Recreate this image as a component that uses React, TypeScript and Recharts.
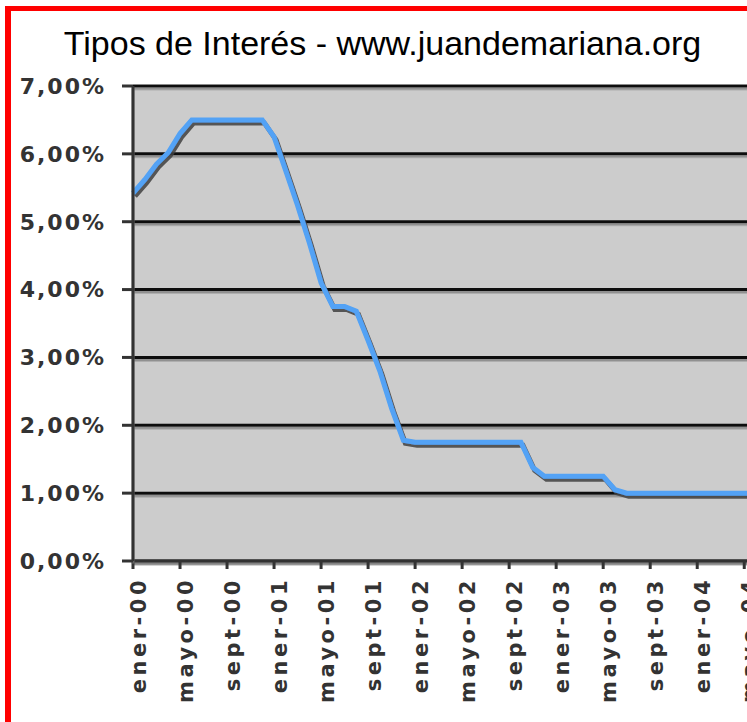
import { CartesianGrid, Line, LineChart, XAxis, YAxis } from "recharts";

const meses = [
  "ener-00", "febr-00", "marz-00", "abri-00", "mayo-00", "juni-00", "juli-00", "agos-00", "sept-00", "octu-00", "novi-00", "dici-00",
  "ener-01", "febr-01", "marz-01", "abri-01", "mayo-01", "juni-01", "juli-01", "agos-01", "sept-01", "octu-01", "novi-01", "dici-01",
  "ener-02", "febr-02", "marz-02", "abri-02", "mayo-02", "juni-02", "juli-02", "agos-02", "sept-02", "octu-02", "novi-02", "dici-02",
  "ener-03", "febr-03", "marz-03", "abri-03", "mayo-03", "juni-03", "juli-03", "agos-03", "sept-03", "octu-03", "novi-03", "dici-03",
  "ener-04", "febr-04", "marz-04", "abri-04", "mayo-04", "juni-04",
];

// tipo de interés (%)
const tipos = [
  5.42, 5.62, 5.85, 6.02, 6.3, 6.5, 6.5, 6.5, 6.5, 6.5, 6.5, 6.5,
  6.25, 5.75, 5.24, 4.69, 4.1, 3.75, 3.75, 3.68, 3.25, 2.8, 2.25, 1.78,
  1.75, 1.75, 1.75, 1.75, 1.75, 1.75, 1.75, 1.75, 1.75, 1.75, 1.38, 1.25,
  1.25, 1.25, 1.25, 1.25, 1.25, 1.05, 1.0, 1.0, 1.0, 1.0, 1.0, 1.0,
  1.0, 1.0, 1.0, 1.0, 1.0, 1.0,
];

const ticksY = [0, 1, 2, 3, 4, 5, 6, 7];

const data = meses.map((mes, i) => ({ mes, tipo: tipos[i] }));

const fmtPct = (v: number) => v.toFixed(2).replace(".", ",") + "%";

function MesTick({ x, y, payload }: any) {
  const ty = y + 6;
  return (
    <text
      x={x}
      y={ty}
      dy="0.62em"
      transform={`rotate(-90, ${x}, ${ty})`}
      textAnchor="end"
      fill="#333"
      fontSize={21}
      fontWeight="bold"
      fontFamily="DejaVu Sans"
      letterSpacing={3.5}
    >
      {payload.value}
    </text>
  );
}

export default function App() {
  return (
    <div
      style={{
        position: "absolute",
        left: 0,
        top: 0,
        width: 747,
        height: 722,
        overflow: "hidden",
        background: "#fff",
      }}
    >
      <style>{`
        .recharts-cartesian-grid-horizontal line { filter: url(#sombraGrid); }
        .recharts-line-curve { filter: url(#sombraLinea); }
        .recharts-cartesian-axis-line { filter: url(#sombraGrid); }
      `}</style>
      <svg width={0} height={0} style={{ position: "absolute" }}>
        <defs>
          <filter id="sombraLinea" filterUnits="userSpaceOnUse" x={0} y={0} width={2000} height={2000}>
            <feDropShadow dx={2} dy={3} stdDeviation={0.6} floodColor="#404040" floodOpacity={0.85} />
          </filter>
          <filter id="sombraGrid" filterUnits="userSpaceOnUse" x={0} y={0} width={2000} height={2000}>
            <feDropShadow dx={0} dy={2.5} stdDeviation={0.6} floodColor="#777" floodOpacity={0.7} />
          </filter>
        </defs>
      </svg>

      <div
        style={{
          position: "absolute",
          left: 0,
          top: 24,
          width: 765,
          textAlign: "center",
          fontFamily: "Liberation Sans",
          fontSize: 34,
          color: "#000",
          whiteSpace: "nowrap",
        }}
      >
        Tipos de Interés - www.juandemariana.org
      </div>

      <div style={{ position: "absolute", left: 0, top: 0 }}>
        <LineChart
          width={760}
          height={722}
          data={data}
          margin={{ top: 86, right: 4, bottom: 0, left: 0 }}
        >
          <CartesianGrid
            vertical={false}
            fill="#cccccc"
            fillOpacity={1}
            stroke="#111"
            strokeWidth={3}
            strokeDasharray=""
          />
          <XAxis
            dataKey="mes"
            interval={3}
            height={161}
            tick={<MesTick />}
            tickSize={8}
            axisLine={{ stroke: "#333", strokeWidth: 3 }}
            tickLine={{ stroke: "#333", strokeWidth: 3 }}
          />
          <YAxis
            domain={[0, 7]}
            ticks={ticksY}
            width={133}
            tickFormatter={fmtPct}
            tickSize={11}
            tickMargin={16}
            tick={{ fill: "#333", fontSize: 22, fontWeight: "bold", fontFamily: "DejaVu Sans", letterSpacing: 2 }}
            axisLine={{ stroke: "#333", strokeWidth: 3 }}
            tickLine={{ stroke: "#333", strokeWidth: 3 }}
          />
          <Line
            dataKey="tipo"
            stroke="#52a2f5"
            strokeWidth={5}
            dot={false}
            type="linear"
            isAnimationActive={false}
          />
        </LineChart>
      </div>

      <div
        style={{
          position: "absolute",
          left: 5,
          top: 6,
          width: 760,
          height: 712,
          borderLeft: "6px solid #f00",
          borderTop: "5px solid #f00",
          borderBottom: "4px solid #f33",
          pointerEvents: "none",
        }}
      />
    </div>
  );
}
